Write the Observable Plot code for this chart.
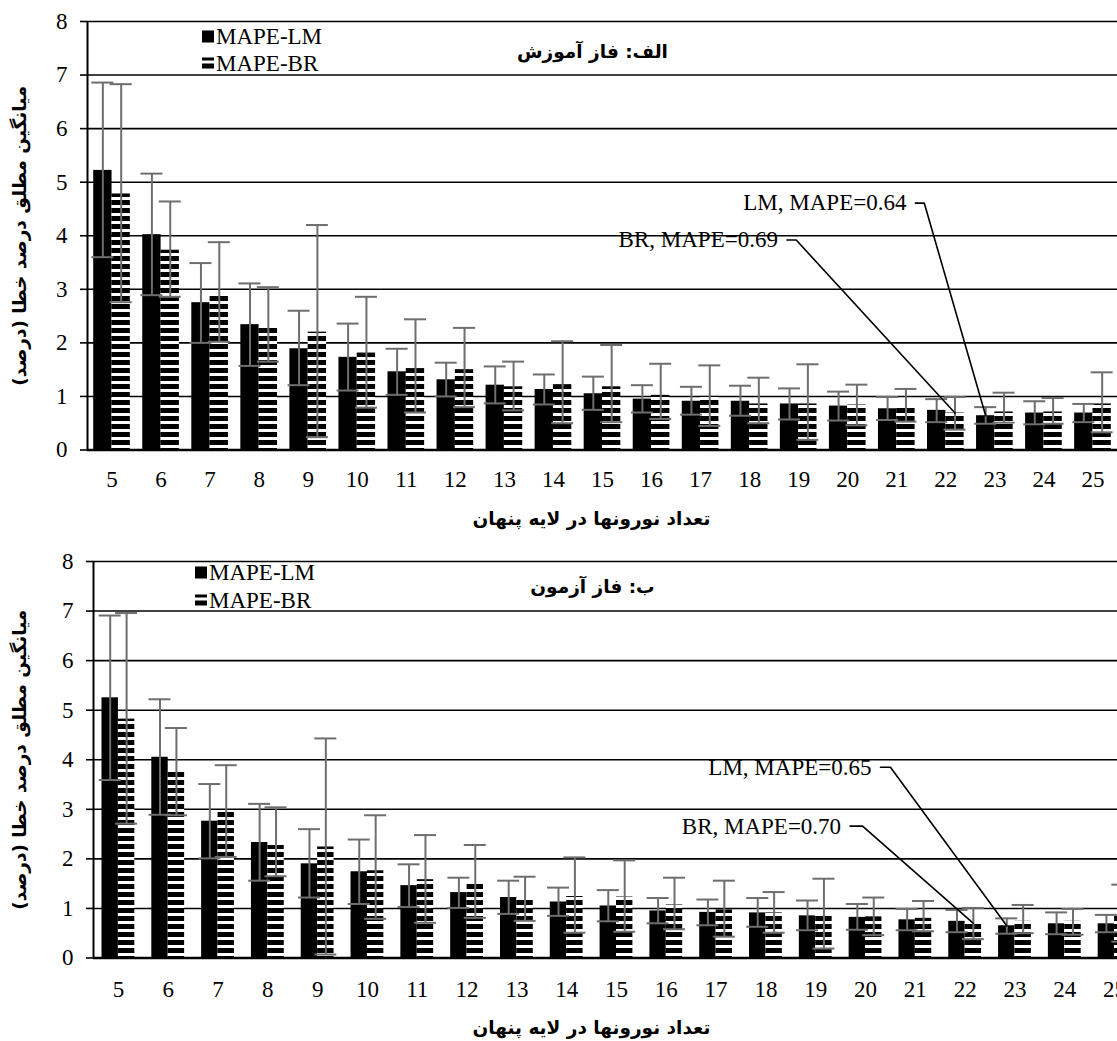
<!DOCTYPE html>
<html><head><meta charset="utf-8">
<script src="https://cdn.jsdelivr.net/npm/d3@7"></script>
<script src="https://cdn.jsdelivr.net/npm/@observablehq/plot@0.6"></script>
<style>
body{margin:0;background:#fff;}
#wrap{width:1117px;height:1041px;overflow:hidden;position:relative;background:#fff;}
#wrap svg{display:block;max-width:none !important;}
</style></head><body><div id="wrap"></div>
<script>
// ---------- data ----------
const categories = [5,6,7,8,9,10,11,12,13,14,15,16,17,18,19,20,21,22,23,24,25];
const yTicks = [0,1,2,3,4,5,6,7,8];
const seriesNames = ["MAPE-LM", "MAPE-BR"];

// training phase (الف)
const lmTrain   = [5.22,4.02,2.75,2.34,1.89,1.73,1.46,1.31,1.21,1.13,1.05,0.95,0.91,0.91,0.86,0.82,0.77,0.74,0.64,0.69,0.69];
const lmTrainLo = [3.60,2.89,2.00,1.57,1.21,1.11,1.03,1.00,0.87,0.85,0.75,0.70,0.66,0.64,0.57,0.55,0.56,0.52,0.49,0.48,0.52];
const lmTrainHi = [6.86,5.16,3.49,3.11,2.60,2.36,1.89,1.63,1.56,1.41,1.37,1.21,1.18,1.20,1.15,1.09,0.99,0.95,0.80,0.91,0.86];
const brTrain   = [4.78,3.73,2.92,2.30,2.20,1.81,1.52,1.50,1.18,1.22,1.18,1.02,1.00,0.86,0.86,0.84,0.83,0.69,0.71,0.71,0.86];
const brTrainLo = [2.76,2.86,2.02,1.65,0.24,0.79,0.70,0.80,0.74,0.50,0.52,0.58,0.45,0.50,0.19,0.46,0.53,0.38,0.51,0.49,0.33];
const brTrainHi = [6.83,4.64,3.88,3.04,4.20,2.86,2.44,2.28,1.65,2.03,1.96,1.61,1.58,1.35,1.60,1.22,1.14,0.99,1.07,0.97,1.45];

// test phase (ب)
const lmTest   = [5.25,4.05,2.76,2.33,1.90,1.74,1.46,1.32,1.22,1.13,1.05,0.95,0.92,0.91,0.85,0.82,0.77,0.74,0.65,0.69,0.69];
const lmTestLo = [3.59,2.89,2.01,1.56,1.22,1.09,1.03,1.01,0.89,0.85,0.74,0.70,0.66,0.63,0.56,0.57,0.56,0.52,0.49,0.48,0.52];
const lmTestHi = [6.91,5.22,3.51,3.11,2.60,2.39,1.89,1.62,1.56,1.42,1.37,1.21,1.18,1.21,1.16,1.09,0.99,0.97,0.80,0.92,0.87];
const brTest   = [4.82,3.75,2.97,2.27,2.24,1.76,1.58,1.54,1.19,1.24,1.23,1.07,0.97,0.91,0.89,0.83,0.80,0.70,0.74,0.74,0.88];
const brTestLo = [2.71,2.88,2.04,1.65,0.07,0.79,0.71,0.81,0.75,0.51,0.53,0.58,0.43,0.51,0.19,0.46,0.54,0.38,0.50,0.47,0.33];
const brTestHi = [6.96,4.64,3.89,3.04,4.43,2.88,2.48,2.28,1.64,2.03,1.97,1.62,1.56,1.33,1.60,1.22,1.15,1.01,1.07,0.99,1.48];

// texts
const yTitle = "میانگین مطلق درصد خطا (درصد)";
const xTitle = "تعداد نورونها در لایه پنهان";
const titleTrain = "الف: فاز آموزش";
const titleTest = "ب: فاز آزمون";

// annotations (best models)
const annoTrainText   = ["LM, MAPE=0.64", "BR, MAPE=0.69"];
const annoTrainSeries = ["LM", "BR"];
const annoTrainN      = [23, 22];
const annoTrainValue  = [0.64, 0.69];
const annoTrainTickX  = [21.38, 18.76];
const annoTrainTickX2 = [21.56, 18.95];
const annoTrainLabelY = [4.61, 3.92];

const annoTestText   = ["LM, MAPE=0.65", "BR, MAPE=0.70"];
const annoTestSeries = ["LM", "BR"];
const annoTestN      = [23, 22];
const annoTestValue  = [0.65, 0.70];
const annoTestTickX  = [20.30, 19.69];
const annoTestTickX2 = [20.50, 19.94];
const annoTestLabelY = [3.85, 2.66];

// ---------- drawing ----------
const SERIF = "'Liberation Serif', 'Times New Roman', Times, 'DejaVu Serif', serif";
const PERSIAN = "'DejaVu Sans', sans-serif";
const ERR = "#6e6e6e";
const RLM = "\u200F";
const xDomain = [categories[0] - 0.5, categories[categories.length - 1] + 0.5];

function rows(n, m, lo, hi) { return n.map((v, i) => ({n: v, mean: m[i], lo: lo[i], hi: hi[i]})); }

function chart(cfg) {
  const L = cfg.layout;
  const lmRows = rows(categories, cfg.lm, cfg.lmLo, cfg.lmHi);
  const brRows = rows(categories, cfg.br, cfg.brLo, cfg.brHi);
  const plotW = L.width - L.marginLeft - L.marginRight;
  const pxPerUnit = plotW / (xDomain[1] - xDomain[0]);
  const band = pxPerUnit;
  const barW = L.barW;
  const lmInL = L.outer, lmInR = band - L.outer - barW;
  const brInL = band - L.outer - barW, brInR = L.outer;
  const off = barW / 2;
  const cap = L.cap / pxPerUnit;
  const pid = cfg.id + "-stripes";
  const fillBR = `url(#${pid})`;

  const anno = cfg.annoText.map((t, i) => ({
    text: t, tickX: cfg.annoTickX[i], tickX2: cfg.annoTickX2[i], y: cfg.annoLabelY[i],
    tx: cfg.annoN[i] + (cfg.annoSeries[i] === "LM" ? -off : off) / pxPerUnit, ty: cfg.annoValue[i]
  }));
  const annoPts = anno.flatMap((a, i) => [
    {k: i, x: a.tickX, y: a.y}, {k: i, x: a.tickX2, y: a.y}, {k: i, x: a.tx, y: a.ty}
  ]);

  const errMarks = (data, dx) => [
    Plot.ruleX(data, {x: "n", y1: "lo", y2: "hi", dx, stroke: ERR, strokeWidth: 2}),
    Plot.ruleY(data, {y: "hi", x1: d => d.n - cap, x2: d => d.n + cap, dx, stroke: ERR, strokeWidth: 2}),
    Plot.ruleY(data, {y: "lo", x1: d => d.n - cap, x2: d => d.n + cap, dx, stroke: ERR, strokeWidth: 2})
  ];

  const svg = Plot.plot({
    width: L.width, height: L.height,
    marginLeft: L.marginLeft, marginRight: L.marginRight,
    marginTop: L.marginTop, marginBottom: L.marginBottom,
    style: {background: "white", color: "black", fontFamily: SERIF},
    x: {type: "linear", domain: xDomain},
    y: {domain: [yTicks[0], yTicks[yTicks.length - 1]]},
    marks: [
      Plot.gridY(yTicks.slice(1), {stroke: "black", strokeOpacity: 1, strokeWidth: 1.6}),
      Plot.axisY(yTicks, {tickSize: 7, tickPadding: 13, fontSize: 23, fontFamily: SERIF, color: "black", strokeWidth: 1.6, label: null, tickFormat: d => d}),
      Plot.axisX(categories, {tickSize: 0, tickPadding: L.tickPadding, fontSize: 23, fontFamily: SERIF, color: "black", label: null, tickFormat: d => d}),
      Plot.rectY(lmRows, {x1: d => d.n - 0.5, x2: d => d.n + 0.5, y: "mean", fill: "black", insetLeft: lmInL, insetRight: lmInR}),
      Plot.rectY(brRows, {x1: d => d.n - 0.5, x2: d => d.n + 0.5, y: "mean", fill: fillBR, insetLeft: brInL, insetRight: brInR}),
      Plot.ruleY([yTicks[0]], {stroke: "black", strokeWidth: 2.5}),
      Plot.ruleX([xDomain[0]], {stroke: "black", strokeWidth: 2}),
      ...errMarks(lmRows, -off),
      ...errMarks(brRows, off),
      Plot.line(annoPts, {x: "x", y: "y", z: "k", stroke: "black", strokeWidth: 1.6, curve: "linear"}),
      Plot.text(anno, {x: "tickX", y: "y", text: "text", textAnchor: "end", lineAnchor: "middle", dx: -9, fontSize: 23, fontFamily: SERIF, fill: "black"}),
      // legend
      Plot.dot([seriesNames[0]], {frameAnchor: "top-left", dx: L.legDx, dy: L.legDy, symbol: "square", r: 6.8, fill: "black"}),
      Plot.dot([seriesNames[1]], {frameAnchor: "top-left", dx: L.legDx, dy: L.legDy + L.legGap, symbol: "square", r: 6.8, fill: fillBR}),
      Plot.text([seriesNames[0]], {frameAnchor: "top-left", text: d => d, dx: L.legDx + 8, dy: L.legDy, textAnchor: "start", lineAnchor: "middle", fontSize: 23, fontFamily: SERIF, fill: "black"}),
      Plot.text([seriesNames[1]], {frameAnchor: "top-left", text: d => d, dx: L.legDx + 8, dy: L.legDy + L.legGap, textAnchor: "start", lineAnchor: "middle", fontSize: 23, fontFamily: SERIF, fill: "black"}),
      // titles
      Plot.text([cfg.title + RLM], {frameAnchor: "top", text: d => d, dx: L.titleDx, dy: L.titleDy, textAnchor: "middle", lineAnchor: "middle", fontSize: 18.5, fontWeight: "bold", fontFamily: PERSIAN, fill: "black"}),
      Plot.text([xTitle + RLM], {frameAnchor: "bottom", text: d => d, dx: L.xTitleDx, dy: L.xTitleDy, textAnchor: "middle", lineAnchor: "middle", fontSize: 18.5, fontWeight: "bold", fontFamily: PERSIAN, fill: "black"}),
      Plot.text([yTitle + RLM], {frameAnchor: "left", text: d => d, rotate: -90, dx: L.yTitleDx, textAnchor: "middle", lineAnchor: "middle", fontSize: 18.5, fontWeight: "bold", fontFamily: PERSIAN, fill: "black"})
    ]
  });
  svg.style.maxWidth = "none";
  const defs = d3.select(svg).insert("defs", ":first-child");
  const p = defs.append("pattern").attr("id", pid).attr("patternUnits", "userSpaceOnUse")
    .attr("width", 8).attr("height", 8);
  p.append("rect").attr("width", 8).attr("height", 8).attr("fill", "white");
  p.append("rect").attr("y", 0).attr("width", 8).attr("height", 5).attr("fill", "black");
  return svg;
}

const wrap = document.getElementById("wrap");
wrap.appendChild(chart({
  id: "train", title: titleTrain,
  lm: lmTrain, lmLo: lmTrainLo, lmHi: lmTrainHi, br: brTrain, brLo: brTrainLo, brHi: brTrainHi,
  annoText: annoTrainText, annoSeries: annoTrainSeries, annoN: annoTrainN, annoValue: annoTrainValue,
  annoTickX: annoTrainTickX, annoTickX2: annoTrainTickX2, annoLabelY: annoTrainLabelY,
  layout: {width: 1117, height: 540, marginLeft: 87, marginRight: 0, marginTop: 21, marginBottom: 90.5,
    barW: 18.35, outer: 6.2, cap: 11, tickPadding: 21,
    legDx: 120.5, legDy: 15, legGap: 27,
    titleDx: -10, titleDy: 31, xTitleDx: -11, xTitleDy: 69, yTitleDx: -67}
}));
wrap.appendChild(chart({
  id: "test", title: titleTest,
  lm: lmTest, lmLo: lmTestLo, lmHi: lmTestHi, br: brTest, brLo: brTestLo, brHi: brTestHi,
  annoText: annoTestText, annoSeries: annoTestSeries, annoN: annoTestN, annoValue: annoTestValue,
  annoTickX: annoTestTickX, annoTickX2: annoTestTickX2, annoLabelY: annoTestLabelY,
  layout: {width: 1139, height: 501, marginLeft: 93, marginRight: 0, marginTop: 21, marginBottom: 83.5,
    barW: 16.4, outer: 8.5, cap: 11, tickPadding: 23,
    legDx: 107.5, legDy: 11, legGap: 28,
    titleDx: -24, titleDy: 26, xTitleDx: -25, xTitleDy: 70, yTitleDx: -73}
}));
</script></body></html>
